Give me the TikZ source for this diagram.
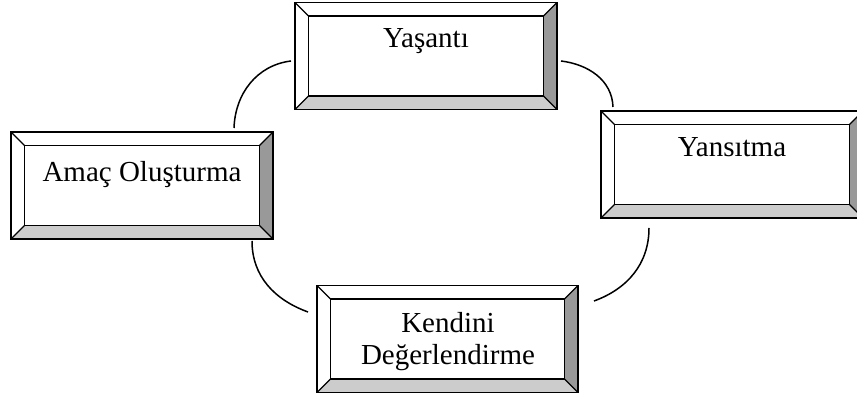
\documentclass[tikz,border=0pt]{standalone}
\usepackage{fontspec}
\setmainfont{Liberation Serif}
\usetikzlibrary{calc}

\definecolor{bevellow}{HTML}{CCCCCC}
\definecolor{bevelside}{HTML}{999999}

\tikzset{
  panel/.style={minimum width=262pt, minimum height=107pt, inner sep=0pt, outer sep=0pt},
  caption/.style={font=\fontsize{29}{32}\selectfont, inner sep=0pt, anchor=base},
  link/.style={line width=1.5pt},
  bevelline/.style={line width=1.1pt, line join=miter},
  frame/.style={line width=1.8pt, line join=miter}
}

% Raised bevelled panel drawn around a named node
\newcommand\bevelpanel[1]{%
  \coordinate (#1-inw) at ($(#1.north west)+(13.5,-13.5)$);
  \coordinate (#1-ine) at ($(#1.north east)+(-13.5,-13.5)$);
  \coordinate (#1-ise) at ($(#1.south east)+(-13.5,13.5)$);
  \coordinate (#1-isw) at ($(#1.south west)+(13.5,13.5)$);
  \fill[white] (#1.north west) rectangle (#1.south east);
  \fill[bevellow] (#1.south west) -- (#1.south east) -- (#1-ise) -- (#1-isw) -- cycle;
  \fill[bevelside] (#1.south east) -- (#1.north east) -- (#1-ine) -- (#1-ise) -- cycle;
  \draw[bevelline] (#1-inw) rectangle (#1-ise);
  \draw[bevelline] (#1.north west) -- (#1-inw) (#1.north east) -- (#1-ine)
                   (#1.south east) -- (#1-ise) (#1.south west) -- (#1-isw);
  \draw[frame] (#1.north west) rectangle (#1.south east);
}

\begin{document}
\begin{tikzpicture}[x=1pt, y=1pt]
  \useasboundingbox (0,0) rectangle (857,403);
  \clip (0,0) rectangle (857,403);
  \fill[white] (0,0) rectangle (857,403);

  % panels
  \node[panel] (amac) at (142,217.5) {};
  \node[panel] (yas)  at (426,347) {};
  \node[panel] (yans) at (732,238.5) {};
  \node[panel, minimum width=261pt] (kend) at (447.5,64) {};

  \bevelpanel{amac}
  \bevelpanel{yas}
  \bevelpanel{yans}
  \bevelpanel{kend}

  % captions
  \node[caption] (amac-t) at (142,221) {Amaç Oluşturma};
  \node[caption] (yas-t)  at (426,355) {Yaşantı};
  \node[caption] (yans-t) at (732,246) {Yansıtma};
  \node[caption] (kend-t1) at (448,70) {Kendini};
  \node[caption] (kend-t2) at (448,38) {Değerlendirme};

  % cycle links between the panels
  \coordinate (l1a) at ($(yas.west)+(-4,-5)$);
  \coordinate (l1b) at ($(amac.north)+(92,4)$);
  \coordinate (l2a) at ($(yas.east)+(4,-5)$);
  \coordinate (l2b) at ($(yans.north west)+(12,4)$);
  \coordinate (l3a) at ($(yans.south)+(-83,-10)$);
  \coordinate (l3b) at ($(kend.east)+(16,38)$);
  \coordinate (l4a) at ($(amac.south)+(110,-2)$);
  \coordinate (l4b) at ($(kend.west)+(-9,27)$);

  \draw[link] (l1a) to[out=187, in=88] (l1b);
  \draw[link] (l2a) to[out=-7, in=92] (l2b);
  \draw[link] (l3a) to[out=270, in=20] (l3b);
  \draw[link] (l4a) to[out=270, in=160] (l4b);
\end{tikzpicture}
\end{document}
